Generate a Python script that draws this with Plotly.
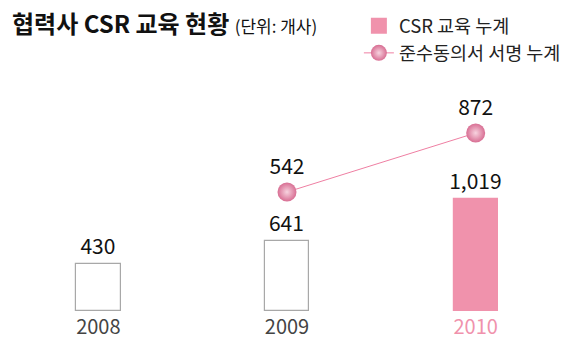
import plotly.graph_objects as go

years = ["2008", "2009", "2010"]
csr_training = [430, 641, 1019]          # CSR 교육 누계
pledge_years = ["2009", "2010"]
pledge_signed = [542, 872]               # 준수동의서 서명 누계

bar_fill = ["#ffffff", "#ffffff", "#f092ac"]
bar_line = ["#a8a8a8", "#a8a8a8", "#f092ac"]
font_kr = "Noto Sans CJK KR"

fig = go.Figure()

fig.add_trace(go.Bar(
    x=years, y=csr_training, name="CSR 교육 누계",
    width=0.235,
    marker=dict(color=bar_fill, line=dict(color=bar_line, width=1.2)),
    text=[f"{v:,}" for v in csr_training], textposition="outside",
    textfont=dict(family=font_kr, size=21, color="#111111"),
    constraintext="none", cliponaxis=False,
    showlegend=False,
))

# legend entry for the bar series: a larger square swatch in the highlight colour
fig.add_trace(go.Scatter(
    x=[None], y=[None], name="CSR 교육 누계", mode="markers",
    marker=dict(symbol="square", size=18, color="#f092ac", line=dict(width=0)),
    legendgroup="a",
))

fig.add_trace(go.Scatter(
    x=pledge_years, y=pledge_signed, name="준수동의서 서명 누계",
    yaxis="y2", mode="lines+markers+text",
    line=dict(color="#ef7fa3", width=1),
    marker=dict(size=19, color="#d86e93",
                gradient=dict(type="radial", color="#f7d3df"),
                line=dict(width=0)),
    text=[f"{v:,}" for v in pledge_signed], textposition="top center",
    textfont=dict(family=font_kr, size=21, color="#111111"),
    cliponaxis=False,
    legendgroup="b",
))

fig.update_layout(
    width=570, height=340,
    margin=dict(l=4, r=0, t=60, b=29),
    paper_bgcolor="white", plot_bgcolor="white",
    bargap=0,
    showlegend=True,
    legend=dict(x=0.627, y=1.21, xanchor="left", yanchor="top",
                font=dict(family=font_kr, size=18.5, color="#222222"),
                tracegroupgap=0, bgcolor="rgba(0,0,0,0)"),
    xaxis=dict(type="category", range=[-0.5, 2.5], showgrid=False,
               showline=False, zeroline=False, ticks="",
               tickfont=dict(family=font_kr, size=20, color="#444444"),
               ticklabelstandoff=2),
    yaxis=dict(range=[0, 2282], visible=False),
    yaxis2=dict(range=[-123.6, 1280.3], overlaying="y", visible=False),
    annotations=[
        dict(text="<b>협력사 CSR 교육 현황</b> <span style='font-size:17px'>(단위: 개사)</span>",
             xref="paper", yref="paper", x=0.01, y=1.151,
             xanchor="left", yanchor="middle", showarrow=False,
             font=dict(family=font_kr, size=24, color="#111111")),
    ],
)

# highlight the latest year's tick label
fig.update_xaxes(tickvals=years,
                 ticktext=["2008", "2009", "<span style='color:#f092ac'>2010</span>"])

fig.write_html("out.html")
